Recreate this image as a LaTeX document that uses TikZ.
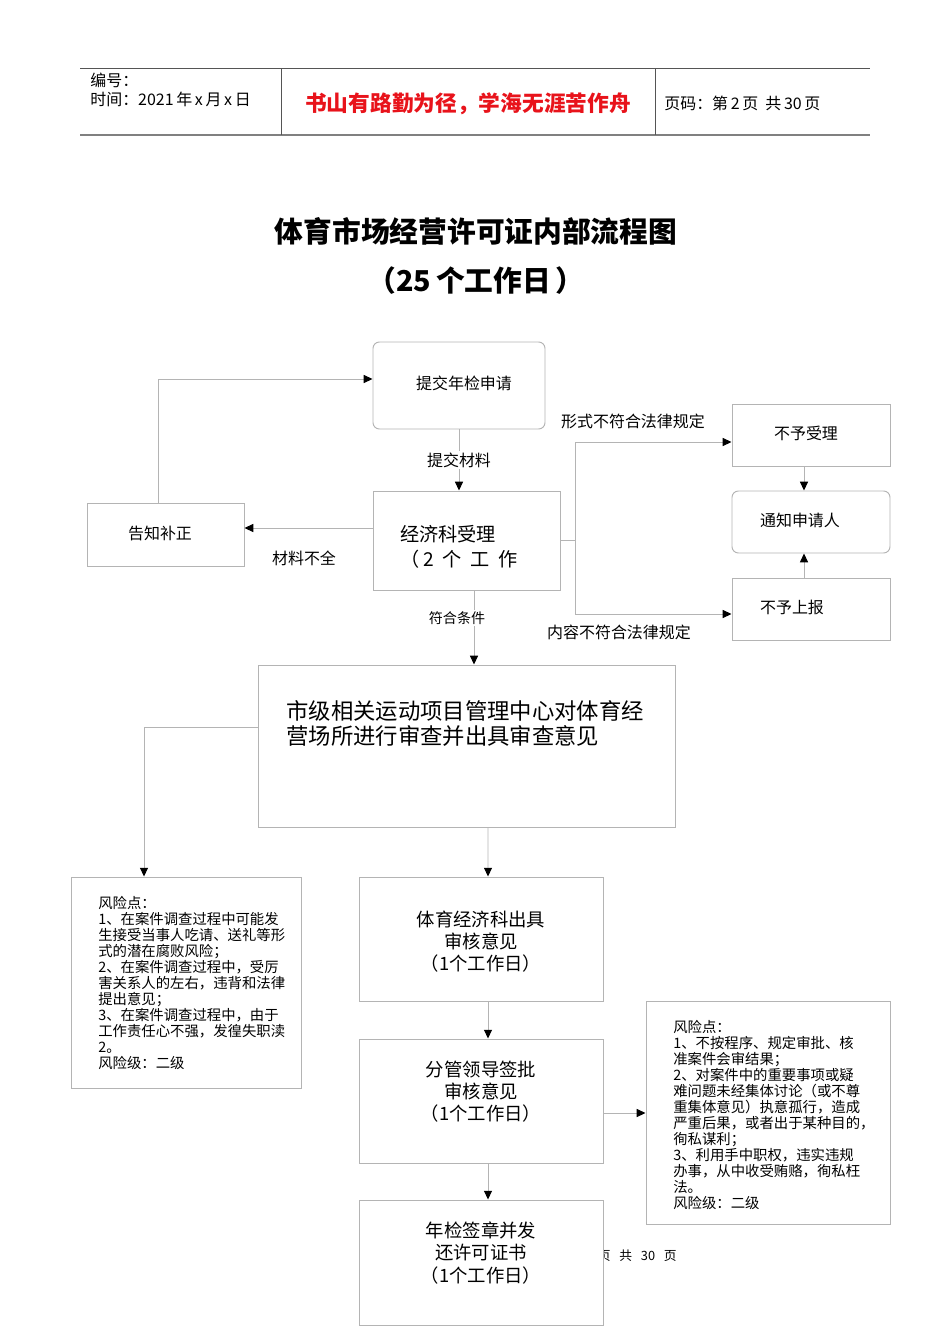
\documentclass[tikz,border=0pt]{standalone}
\usepackage{fontspec}
\setmainfont{Noto Sans CJK SC}
\usetikzlibrary{arrows.meta,calc}
\newdimen\pxu \pxu=0.6263pt
\definecolor{linegray}{HTML}{B4B4B4}
\definecolor{hdrgray}{HTML}{555555}
\definecolor{hdrred}{HTML}{E8131B}

\begin{document}
\begin{tikzpicture}[x=\pxu,y=-\pxu,
  blk/.style 2 args={draw=linegray,line width=0.6pt,fill=white,minimum width=#1*\pxu,minimum height=#2*\pxu,inner sep=0pt},
  rblk/.style 2 args={blk={#1}{#2},rounded corners=4pt},
  arr/.style={draw=linegray,line width=0.6pt,-{Triangle[length=5.5pt,width=5pt,color=black]}},
  wire/.style={draw=linegray,line width=0.6pt},
  txt/.style={inner sep=0pt,font=\fontsize{10}{12}\selectfont},
  lbl/.style={inner sep=1pt,font=\fontsize{10}{12}\selectfont},
  boxtxt/.style={inner sep=0pt,align=center,font=\fontsize{11.5}{13.8}\selectfont},
  risk/.style={inner sep=0pt,anchor=north west,align=left,font=\fontsize{9}{10}\selectfont}]
\useasboundingbox (0,0) rectangle (950,1344);

% header
\draw[hdrgray,line width=0.6pt] (80,68) -- (870,68);
\draw[gray,line width=1.3pt] (80,135) -- (870,135);
\draw[hdrgray,line width=0.6pt] (281,68) -- (281,135) (655,68) -- (655,135);
\node[txt,anchor=west,font=\fontsize{10}{12}\selectfont] (hno) at (90,80) {编号：};
\node[txt,anchor=west,font=\fontsize{10}{12}\selectfont] (hdate) at (90,99) {时间：2021\,年\,x\,月\,x\,日};
\node[txt,text=hdrred,font=\fontsize{13.6}{16}\selectfont\bfseries] (hmotto) at (468,104) {书山有路勤为径，学海无涯苦作舟};
\node[txt,anchor=west,font=\fontsize{10}{12}\selectfont] (hpage) at (664,103) {页码：第\,2\,页\ \ 共\,30\,页};

% title
\node[txt,font=\fontsize{18}{22}\selectfont\bfseries] (title) at (476,231) {体育市场经营许可证内部流程图};
\node[txt,font=\fontsize{18}{22}\selectfont\bfseries] (days) at (476,281) {（25\,个工作日\,）};

% page footer, partly under the last box
\node[txt,anchor=east,font=\fontsize{8}{10}\selectfont] (foot) at (677,1256) {第\hspace{5.5pt}2\hspace{5.5pt}页\hspace{5.5pt}共\hspace{5.5pt}30\hspace{5.5pt}页};

% boxes
\node[rblk={172}{87}] (submit) at (459,385.5) {};
\node[blk={187}{99}] (accept) at (466.5,540.5) {};
\node[blk={157}{63}] (notify) at (165.5,534.5) {};
\node[blk={158}{62}] (reject) at (811,435) {};
\node[rblk={158}{62}] (notifyapp) at (811,522) {};
\node[blk={158}{62}] (noreport) at (811,609) {};
\node[blk={417}{162}] (review) at (466.5,746) {};
\node[blk={230}{211}] (risk1) at (186,982.5) {};
\node[blk={244}{124}] (econ) at (481,939) {};
\node[blk={244}{124}] (lead) at (481,1101) {};
\node[blk={244}{125}] (issue) at (481,1262.5) {};
\node[blk={244}{223}] (risk2) at (768,1112.5) {};

% box texts
\node[txt] (submit-t) at (464,383) {提交年检申请};
\node[inner sep=0pt,anchor=north west,align=left,font=\fontsize{12}{15.7}\selectfont] (accept-t) at (400,525) {经济科受理\\（ 2 \ 个 \ 工 \ 作};
\node[txt] (notify-t) at (160,533) {告知补正};
\node[txt] (reject-t) at (806,433) {不予受理};
\node[txt] (notifyapp-t) at (800,520) {通知申请人};
\node[txt] (noreport-t) at (792,607) {不予上报};
\node[inner sep=0pt,anchor=north west,align=left,font=\fontsize{14}{15.7}\selectfont] (review-t) at (286,700) {市级相关运动项目管理中心对体育经\\营场所进行审查并出具审查意见};
\node[boxtxt] (econ-t) at (481,942) {体育经济科出具\\审核意见\\（1个工作日）};
\node[boxtxt] (lead-t) at (481,1092) {分管领导签批\\审核意见\\（1个工作日）};
\node[boxtxt] (issue-t) at (481,1253) {年检签章并发\\还许可证书\\（1个工作日）};
\node[risk] (risk1-t) at (98,896) {风险点：\\1、在案件调查过程中可能发\\生接受当事人吃请、送礼等形\\式的潜在腐败风险；\\2、在案件调查过程中，受厉\\害关系人的左右，违背和法律\\提出意见；\\3、在案件调查过程中，由于\\工作责任心不强，发徨失职渎\\2。\\风险级：二级};
\node[risk] (risk2-t) at (673,1020) {风险点：\\1、不按程序、规定审批、核\\准案件会审结果；\\2、对案件中的重要事项或疑\\难问题未经集体讨论（或不尊\\重集体意见）执意孤行，造成\\严重后果，或者出于某种目的，\\徇私谋利；\\3、利用手中职权，违实违规\\办事，从中收受贿赂，徇私枉\\法。\\风险级：二级};

% connectors
\draw[arr] (submit.south) -- (submit.south |- accept.north)
   node[midway,lbl,fill=white] (lsubmit) {提交材料};
\coordinate (aw) at ($(accept.west)+(0,-12.5)$);
\draw[arr] (aw) -- (aw -| notify.east);
\node[lbl,fill=white] (lmissing) at (304,558) {材料不全};
\draw[arr] ($(notify.north)+(-7.5,0)$) |- ($(submit.west)+(0,-6.5)$);
\draw[wire] (accept.east) -- ++(15,0) coordinate (split);
\draw[arr] (split) |- ($(reject.west)+(0,7)$);
\draw[arr] (split) |- ($(noreport.west)+(0,5)$);
\node[lbl] (lform) at (633,421) {形式不符合法律规定};
\node[lbl] (lcontent) at (619,632) {内容不符合法律规定};
\draw[arr] ($(reject.south)+(-7,0)$) -- ($(notifyapp.north)+(-7,0)$);
\draw[arr] ($(noreport.north)+(-7,0)$) -- ($(notifyapp.south)+(-7,0)$);
\draw[arr] ($(accept.south)+(7.5,0)$) -- ($(review.north)+(7.5,0)$);
\node[lbl,fill=white,font=\fontsize{8.8}{10}\selectfont] (lok) at (457,618) {符合条件};
\draw[arr] ($(review.west)+(0,-19)$) -| ($(risk1.north)+(-42,0)$);
\draw[arr] ($(review.south)+(21.5,0)$) -- ($(econ.north)+(7,0)$);
\draw[arr] ($(econ.south)+(7,0)$) -- ($(lead.north)+(7,0)$);
\draw[arr] ($(lead.south)+(7,0)$) -- ($(issue.north)+(7,0)$);
\coordinate (le) at ($(lead.east)+(0,12)$);
\draw[arr] (le) -- (le -| risk2.west);
\end{tikzpicture}
\end{document}
